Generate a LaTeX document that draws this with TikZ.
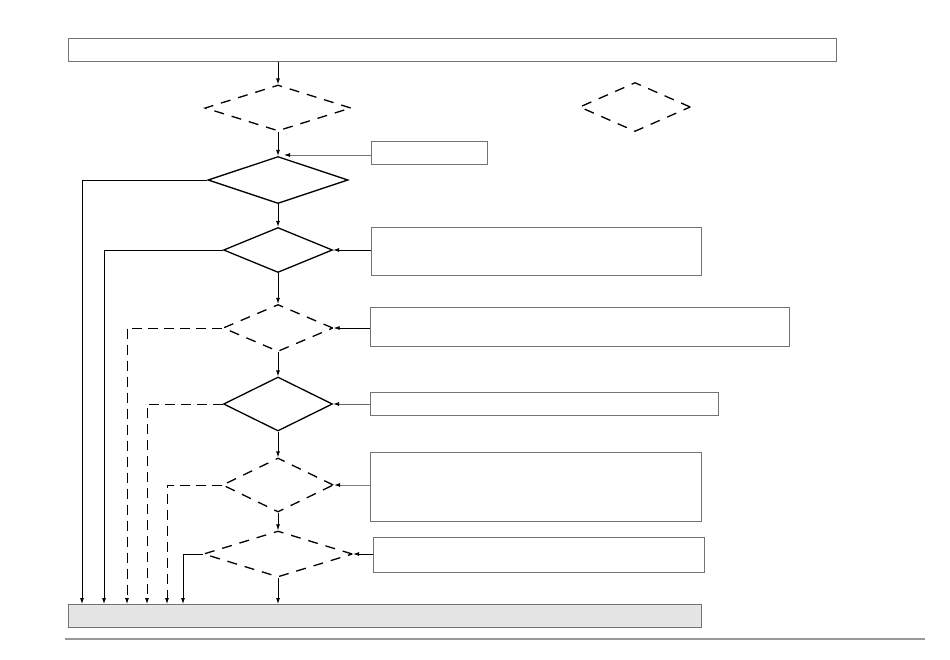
\documentclass[tikz,border=0pt]{standalone}
\usetikzlibrary{shapes.geometric,arrows.meta}
\begin{document}
\begin{tikzpicture}[x=1pt,y=-1pt,
  box/.style={draw=black!55,line width=0.8pt,rectangle,inner sep=0pt,anchor=north west},
  dsolid/.style={draw=black,line width=1.3pt,diamond,inner sep=0pt},
  ddash/.style={draw=black,line width=1.3pt,diamond,inner sep=0pt,dash pattern=on 10pt off 8pt},
  conn/.style={line width=0.8pt,-{Latex[length=6pt,width=4pt]}},
  gconn/.style={line width=0.8pt,-{Latex[length=6pt,width=4pt,color=black]}},
  dconn/.style={conn,dash pattern=on 10pt off 6pt}]
\useasboundingbox (0,0) rectangle (950,659);
% boxes
\node[box,minimum width=768pt,minimum height=23pt] (top) at (68,38) {};
\node[box,minimum width=116pt,minimum height=23pt] (b2) at (371,141) {};
\node[box,minimum width=330pt,minimum height=48pt] (b3) at (371,227) {};
\node[box,minimum width=419pt,minimum height=39pt] (b4) at (370,307) {};
\node[box,minimum width=348pt,minimum height=23pt] (b5) at (370,392) {};
\node[box,minimum width=331pt,minimum height=69pt] (b6) at (370,452) {};
\node[box,minimum width=331pt,minimum height=35pt] (b7) at (373,537) {};
\node[box,fill=black!10,minimum width=633pt,minimum height=23pt] (bot) at (68,604) {};
% diamonds
\node[ddash,minimum width=146pt,minimum height=46pt] (d1) at (278,108) {};
\node[ddash,minimum width=111pt,minimum height=49pt] (dr) at (635,107) {};
\node[dsolid,minimum width=140pt,minimum height=47pt] (d2) at (278,180) {};
\node[dsolid,minimum width=109pt,minimum height=45pt] (d3) at (278,250) {};
\node[ddash,minimum width=110pt,minimum height=47pt] (d4) at (278,328) {};
\node[dsolid,minimum width=109pt,minimum height=54pt] (d5) at (278,404) {};
\node[ddash,minimum width=111pt,minimum height=54pt] (d6) at (278,485) {};
\node[ddash,minimum width=149pt,minimum height=46pt] (d7) at (278,554) {};
% vertical flow
\draw[conn] (top.south -| d1.north) -- (d1.north);
\draw[conn] (d1.south) -- (d2.north);
\draw[conn] (d2.south) -- (d3.north);
\draw[conn] (d3.south) -- (d4.north);
\draw[conn] (d4.south) -- (d5.north);
\draw[conn] (d5.south) -- (d6.north);
\draw[conn] (d6.south) -- (d7.north);
\draw[conn] (d7.south) -- (d7.south |- bot.north);
% inputs from boxes
\coordinate (t2) at (284,155);
\draw[gconn,draw=black!55] (b2.west |- t2) -- (t2);
\draw[conn] (b3.west |- d3.east) -- (d3.east);
\draw[conn] (b4.west |- d4.east) -- (d4.east);
\draw[gconn,draw=black!60] (b5.west |- d5.east) -- (d5.east);
\draw[gconn,draw=black!50] (b6.west |- d6.east) -- (d6.east);
\draw[conn] (b7.west |- d7.east) -- (d7.east);
% exits to bottom
\coordinate (c2) at (82,180);
\coordinate (c3) at (104,250);
\coordinate (c4) at (127,328);
\coordinate (c5) at (147,404);
\coordinate (c6) at (167,485);
\coordinate (c7) at (183,554);
\draw[conn] (d2.west) -- (c2) -- (c2 |- bot.north);
\draw[conn] (d3.west) -- (c3) -- (c3 |- bot.north);
\draw[dconn] (d4.west) -- (c4) -- (c4 |- bot.north);
\draw[dconn] (d5.west) -- (c5) -- (c5 |- bot.north);
\draw[dconn] (d6.west) -- (c6) -- (c6 |- bot.north);
\draw[conn] (d7.west) -- (c7) -- (c7 |- bot.north);
% rule
\coordinate (r1) at (65,639);
\coordinate (r2) at (925,639);
\draw[black!40,line width=2.5pt] (r1) -- (r2);
\end{tikzpicture}
\end{document}
